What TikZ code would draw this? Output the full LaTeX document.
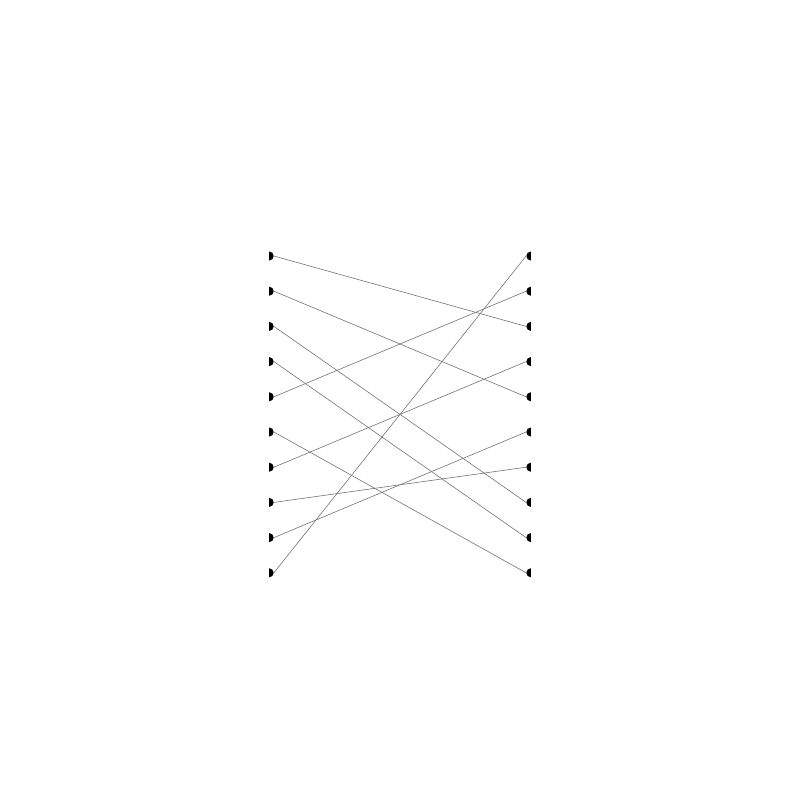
\documentclass[tikz,border=0pt]{standalone}
\usetikzlibrary{shapes.geometric}
\begin{document}
\begin{tikzpicture}
[x=1pt,y=-1pt,
  leftend/.style={shape=semicircle,fill=black,inner sep=0pt,minimum size=4.5pt,rotate=-90,anchor=chord center},%
  rightend/.style={shape=semicircle,fill=black,inner sep=0pt,minimum size=4.5pt,rotate=90,anchor=chord center},%
  linedecorate/.style={-,draw=black!55,line width=0.6pt}]
\useasboundingbox (0,0) rectangle (800,800);
%% end points on both sides
\foreach \i in {1,...,10}
{
  \node (l\i) at (269,{256+35.2*(\i-1)}) [leftend] {};
  \node (r\i) at (531,{256+35.2*(\i-1)}) [rightend] {};
}
%% wires
\path
\foreach \startnode/\endnode in {1/3, 2/5, 3/8, 4/9, 5/2, 6/10, 7/4, 8/7, 9/6, 10/1}
{
  (l\startnode.apex) edge[linedecorate] (r\endnode.apex)
};
\end{tikzpicture}
\end{document}
